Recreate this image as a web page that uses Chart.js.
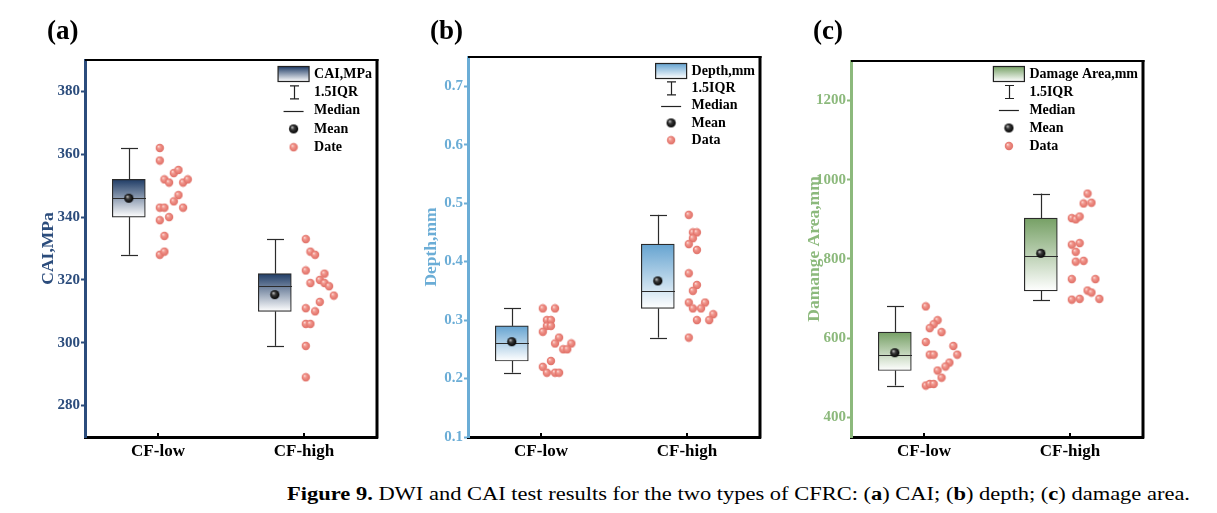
<!DOCTYPE html>
<html>
<head>
<meta charset="utf-8">
<script src="https://cdn.jsdelivr.net/npm/chart.js@4.4.1/dist/chart.umd.min.js"></script>
<style>
  html, body { margin: 0; padding: 0; background: #fff; }
  body { width: 1217px; height: 513px; position: relative; overflow: hidden; }
  .panel { position: absolute; top: 0; width: 400px; height: 470px; }
  #caption { position: absolute; left: 287px; top: 484px; font-family: "Liberation Serif", serif; font-size: 18px; color: #000; white-space: nowrap; transform-origin: 0 0; }
</style>
</head>
<body>
<div class="panel" style="left:0"><canvas id="chartA" width="400" height="470"></canvas></div>
<div class="panel" style="left:383px"><canvas id="chartB" width="400" height="470"></canvas></div>
<div class="panel" style="left:766px"><canvas id="chartC" width="400" height="470"></canvas></div>
<div id="caption"><b>Figure 9.</b> DWI and CAI test results for the two types of CFRC: (<b>a</b>) CAI; (<b>b</b>) depth; (<b>c</b>) damage area.</div>
<script>
const categories = ['CF-low', 'CF-high'];

// (a) CAI, MPa
const caiTicks = [280, 300, 320, 340, 360, 380];
const caiWhiskerLow = [328, 299];
const caiQ1 = [340, 310];
const caiMedian = [346, 318];
const caiQ3 = [352, 322];
const caiWhiskerHigh = [362, 333];
const caiMean = [346, 315.3];
const caiLow = [362, 358, 352, 351, 354, 355, 351, 352, 347, 345, 343, 343, 343, 339, 340, 334, 328, 329];
const caiLowCol = [0, 0, 1, 2, 3, 4, 5, 6, 4, 3, 0, 1, 5, 0, 2, 1, 0, 1];
const caiHigh = [333, 329, 328, 323, 322, 319, 320, 319, 318, 315, 313, 311, 310, 306, 306, 299, 289];
const caiHighCol = [0, 1, 2, 0, 4, 1, 3, 4, 5, 6, 3, 0, 2, 0, 1, 0, 0];

// (b) depth, mm
const depthTicks = [0.1, 0.2, 0.3, 0.4, 0.5, 0.6, 0.7];
const depthWhiskerLow = [0.21, 0.27];
const depthQ1 = [0.23, 0.32];
const depthMedian = [0.26, 0.35];
const depthQ3 = [0.29, 0.43];
const depthWhiskerHigh = [0.32, 0.48];
const depthMean = [0.263, 0.367];
const depthLow = [0.32, 0.32, 0.30, 0.30, 0.29, 0.29, 0.28, 0.27, 0.26, 0.26, 0.25, 0.25, 0.23, 0.22, 0.21, 0.21, 0.21];
const depthLowCol = [0, 3, 1, 2, 1, 2, 0, 4, 3, 7, 5, 6, 2, 0, 1, 3, 4];
const depthHigh = [0.48, 0.45, 0.45, 0.44, 0.43, 0.42, 0.38, 0.36, 0.35, 0.33, 0.33, 0.32, 0.32, 0.31, 0.30, 0.30, 0.27];
const depthHighCol = [0, 1, 2, 1, 0, 2, 0, 2, 1, 0, 4, 1, 3, 6, 2, 5, 0];

// (c) damage area
const areaTicks = [400, 600, 800, 1000, 1200];
const areaWhiskerLow = [480, 696];
const areaQ1 = [518, 719];
const areaMedian = [558, 808];
const areaQ3 = [615, 903];
const areaWhiskerHigh = [680, 965];
const areaMean = [563, 814];
const areaLow = [680, 645, 635, 625, 615, 590, 580, 558, 558, 558, 538, 528, 518, 500, 480, 484, 484];
const areaLowCol = [0, 3, 2, 1, 4, 0, 7, 1, 2, 8, 6, 5, 3, 4, 0, 1, 2];
const areaHigh = [965, 940, 942, 903, 900, 907, 836, 840, 818, 793, 795, 749, 749, 720, 715, 697, 699, 699];
const areaHighCol = [4, 3, 5, 0, 1, 2, 0, 2, 1, 1, 3, 0, 6, 4, 5, 0, 2, 7];

const FONT = 'Liberation Serif';
const BOX_OFFSET = -0.2;   // box sits left of the category tick, points to the right

// little shaded balls used as point styles
function ball(r, c0, c1, c2) {
    const cv = document.createElement('canvas');
    const s = Math.ceil(r * 2) + 1;
    cv.width = s; cv.height = s;
    const g = cv.getContext('2d');
    const m = s / 2;
    const grad = g.createRadialGradient(m - r * 0.35, m - r * 0.4, 0, m, m, r);
    grad.addColorStop(0, c0);
    grad.addColorStop(0.4, c1);
    grad.addColorStop(1, c2);
    g.fillStyle = grad;
    g.beginPath(); g.arc(m, m, r, 0, Math.PI * 2); g.fill();
    return cv;
}
const dataBall = ball(4.2, '#fde3df', '#f1958c', '#df6d64');
const meanBall = ball(4.6, '#e0e0e0', '#3a3a3a', '#000000');

function makePanel(cfg) {
    const points = [];
    [[cfg.low, cfg.lowCol], [cfg.high, cfg.highCol]].forEach(([vals, cols], i) => {
        vals.forEach((v, k) => points.push({ x: i + 0.012 + cols[k] * cfg.step, y: v }));
    });

    const boxGradient = (c, top, bottom) => {
        const g = c.createLinearGradient(0, top, 0, bottom);
        g.addColorStop(0, cfg.boxTop);
        g.addColorStop(1, '#ffffff');
        return g;
    };

    const boxParts = {
        id: 'boxParts',
        afterDatasetDraw(chart, args) {
            if (args.meta.type !== 'bar') return;
            const { x, y } = chart.scales;
            const c = chart.ctx;
            c.save();
            c.strokeStyle = '#2b2b2b';
            c.lineWidth = 1.2;
            const line = (x1, y1, x2, y2) => { c.beginPath(); c.moveTo(x1, y1); c.lineTo(x2, y2); c.stroke(); };
            cfg.q1.forEach((q1, i) => {
                const px = Math.round(x.getPixelForValue(i + BOX_OFFSET)) + 0.5;
                line(px, y.getPixelForValue(cfg.q3[i]), px, y.getPixelForValue(cfg.hi[i]));
                line(px, y.getPixelForValue(q1), px, y.getPixelForValue(cfg.lo[i]));
                [cfg.hi[i], cfg.lo[i]].forEach(v => {
                    const py = Math.round(y.getPixelForValue(v)) + 0.5;
                    line(px - 8.5, py, px + 8.5, py);
                });
                const pm = Math.round(y.getPixelForValue(cfg.median[i])) + 0.5;
                line(px - 16.5, pm, px + 16.5, pm);
            });
            c.restore();
        }
    };

    const decor = {
        id: 'decor',
        afterDraw(chart) {
            const c = chart.ctx, a = chart.chartArea, x = chart.scales.x;
            c.save();
            // frame top / right
            c.strokeStyle = '#000';
            c.lineWidth = 2;
            c.beginPath(); c.moveTo(a.left, a.top); c.lineTo(a.right + 1.5, a.top); c.stroke();
            c.lineWidth = 3;
            c.beginPath(); c.moveTo(a.right, a.top - 1); c.lineTo(a.right, a.bottom + 1.5); c.stroke();
            // inward x ticks
            c.lineWidth = 2;
            categories.forEach((_, i) => {
                const px = Math.round(x.getPixelForValue(i));
                c.beginPath(); c.moveTo(px, a.bottom); c.lineTo(px, a.bottom - 4); c.stroke();
            });
            // panel tag
            c.fillStyle = '#000';
            c.font = 'bold 27px "' + FONT + '"';
            c.textBaseline = 'alphabetic';
            c.fillText(cfg.tag, a.left - 38, 39);
            // legend
            c.font = 'bold 14px "' + FONT + '"';
            c.textBaseline = 'middle';
            const names = [cfg.legendName, '1.5IQR', 'Median', 'Mean', cfg.dataName];
            const w = Math.max(...names.map(n => c.measureText(n).width));
            const tx = a.right - 5 - w;
            const ix = tx - 20.5;
            names.forEach((n, k) => {
                const cy = a.top + cfg.legendTop + k * cfg.legendGap;
                c.fillStyle = '#000';
                c.fillText(n, tx, cy);
                c.strokeStyle = '#222';
                c.lineWidth = 1.2;
                if (k === 0) {
                    c.fillStyle = boxGradient(c, cy - 7.5, cy + 7.5);
                    c.fillRect(ix - 15.5, cy - 7.5, 31, 15);
                    c.strokeRect(ix - 15.5, cy - 7.5, 31, 15);
                } else if (k === 1) {
                    const xx = Math.round(ix) + 0.5;
                    c.beginPath();
                    c.moveTo(xx, cy - 6.5); c.lineTo(xx, cy + 6.5);
                    c.moveTo(xx - 4.5, cy - 6.5); c.lineTo(xx + 4.5, cy - 6.5);
                    c.moveTo(xx - 4.5, cy + 6.5); c.lineTo(xx + 4.5, cy + 6.5);
                    c.stroke();
                } else if (k === 2) {
                    c.beginPath(); c.moveTo(ix - 10, Math.round(cy) + 0.5); c.lineTo(ix + 10, Math.round(cy) + 0.5); c.stroke();
                } else {
                    const img = k === 3 ? meanBall : dataBall;
                    c.drawImage(img, ix - img.width / 2, cy - img.height / 2);
                }
            });
            c.restore();
        }
    };

    return new Chart(document.getElementById(cfg.id), {
        type: 'bar',
        data: {
            datasets: [
                {
                    type: 'scatter',
                    label: 'Mean',
                    data: cfg.mean.map((v, i) => ({ x: i + BOX_OFFSET, y: v })),
                    pointStyle: meanBall,
                    pointRadius: 5
                },
                {
                    type: 'scatter',
                    label: cfg.dataName,
                    data: points,
                    pointStyle: dataBall,
                    pointRadius: 4
                },
                {
                    type: 'bar',
                    label: cfg.legendName,
                    data: cfg.q1.map((q1, i) => ({ x: i + BOX_OFFSET, y: [q1, cfg.q3[i]] })),
                    barThickness: 33,
                    borderWidth: 1.2,
                    borderColor: '#2b2b2b',
                    borderSkipped: false,
                    backgroundColor: function(ctx) {
                        if (ctx.type !== 'data') return cfg.boxTop;
                        const y = ctx.chart.scales.y;
                        const top = y.getPixelForValue(cfg.q3[ctx.dataIndex]);
                        const bottom = y.getPixelForValue(cfg.q1[ctx.dataIndex]);
                        if (!isFinite(top) || !isFinite(bottom)) return cfg.boxTop;
                        return boxGradient(ctx.chart.ctx, top, bottom);
                    }
                }
            ]
        },
        options: {
            responsive: false,
            animation: false,
            devicePixelRatio: 1,
            layout: { padding: { left: 38, right: 23, top: cfg.top, bottom: 0 } },
            plugins: {
                legend: { display: false },
                tooltip: { enabled: false }
            },
            scales: {
                x: {
                    type: 'linear',
                    min: -0.5,
                    max: 1.5,
                    offset: false,
                    afterBuildTicks: s => { s.ticks = categories.map((_, i) => ({ value: i })); },
                    afterFit: s => { s.height = 33; },
                    border: { color: '#000', width: 3 },
                    grid: { drawOnChartArea: false, drawTicks: false },
                    ticks: {
                        color: '#000',
                        padding: 4,
                        maxRotation: 0,
                        autoSkip: false,
                        font: { family: FONT, size: 17, weight: 'bold' },
                        callback: v => categories[v] ?? ''
                    }
                },
                y: {
                    min: cfg.min,
                    max: cfg.max,
                    afterBuildTicks: s => { s.ticks = cfg.ticks.map(v => ({ value: v })); },
                    afterFit: s => { s.width = 47; },
                    border: { color: cfg.axisColor, width: 3 },
                    grid: { drawOnChartArea: false, drawTicks: true, tickLength: 4, tickColor: cfg.axisColor, tickWidth: 2 },
                    ticks: {
                        color: cfg.axisColor,
                        padding: 1,
                        font: { family: FONT, size: 15, weight: 'bold' },
                        callback: v => Number(v).toFixed(cfg.dec)
                    },
                    title: {
                        display: true,
                        text: cfg.yTitle,
                        color: cfg.axisColor,
                        padding: 0,
                        font: { family: FONT, size: 17.5, weight: 'bold' }
                    }
                }
            }
        },
        plugins: [boxParts, decor]
    });
}

makePanel({
    id: 'chartA', tag: '(a)', yTitle: 'CAI,MPa', legendName: 'CAI,MPa', dataName: 'Date',
    axisColor: '#2b4c7c', boxTop: '#1f3c66', min: 270, max: 390, ticks: caiTicks, dec: 0,
    top: 60, step: 0.032, legendTop: 14, legendGap: 18.3,
    lo: caiWhiskerLow, q1: caiQ1, median: caiMedian, q3: caiQ3, hi: caiWhiskerHigh, mean: caiMean,
    low: caiLow, lowCol: caiLowCol, high: caiHigh, highCol: caiHighCol
});
makePanel({
    id: 'chartB', tag: '(b)', yTitle: 'Depth,mm', legendName: 'Depth,mm', dataName: 'Data',
    axisColor: '#6badd6', boxTop: '#65a3d0', min: 0.1, max: 0.75, ticks: depthTicks, dec: 1,
    top: 57, step: 0.028, legendTop: 14, legendGap: 17.3,
    lo: depthWhiskerLow, q1: depthQ1, median: depthMedian, q3: depthQ3, hi: depthWhiskerHigh, mean: depthMean,
    low: depthLow, lowCol: depthLowCol, high: depthHigh, highCol: depthHighCol
});
makePanel({
    id: 'chartC', tag: '(c)', yTitle: 'Damange Area,mm', legendName: 'Damage Area,mm', dataName: 'Data',
    axisColor: '#8cb97c', boxTop: '#76a065', min: 350, max: 1300, ticks: areaTicks, dec: 0,
    top: 61, step: 0.027, legendTop: 13, legendGap: 18,
    lo: areaWhiskerLow, q1: areaQ1, median: areaMedian, q3: areaQ3, hi: areaWhiskerHigh, mean: areaMean,
    low: areaLow, lowCol: areaLowCol, high: areaHigh, highCol: areaHighCol
});

// stretch the caption to the width it has in the figure
const cap = document.getElementById('caption');
cap.style.transform = 'scaleX(' + (903 / cap.getBoundingClientRect().width) + ')';
</script>
</body>
</html>
